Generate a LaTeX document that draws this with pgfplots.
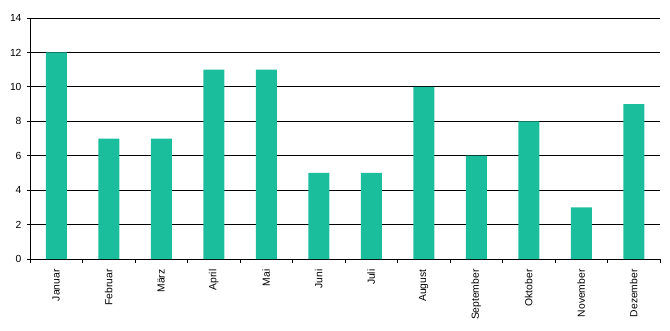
\documentclass[border=0pt]{standalone}
\usepackage{pgfplots}
\pgfplotsset{compat=1.18}
\usepackage{fontspec}
\setmainfont{Liberation Sans}
\definecolor{barc}{RGB}{27,190,156}
\begin{document}
\begin{tikzpicture}
\useasboundingbox (-30pt,-71pt) rectangle (640pt,259pt);
\begin{axis}[
  scale only axis,
  width=630pt, height=241pt,
  at={(0pt,0pt)}, anchor=south west,
  xmin=-0.5, xmax=11.5,
  ymin=0, ymax=14,
  axis x line*=bottom, axis y line*=left,
  axis line style={black, line width=0.8pt, -},
  ytick={0,2,...,14},
  ymajorgrids, grid style={black, line width=0.8pt},
  xtick={0,...,11},
  xticklabels={Januar,Februar,März,April,Mai,Juni,Juli,August,September,Oktober,November,Dezember},
  minor xtick={-0.5,0.5,...,11.5},
  major tick length=3pt,
  major x tick style={draw=none},
  minor x tick style={black, line width=0.8pt},
  minor tick length=4pt,
  tick align=outside,
  ytick style={black, line width=0.8pt},
  x tick label style={rotate=90, anchor=east, font=\fontsize{10.3}{12}\selectfont, xshift=-4pt},
  y tick label style={font=\fontsize{10.3}{12}\selectfont, xshift=-2pt},
  /pgf/number format/assume math mode=true,
  clip=false,
]
\addplot[ybar, bar width=21pt, fill=barc, draw=none] coordinates {
(0,12) (1,7) (2,7) (3,11) (4,11) (5,5) (6,5) (7,10) (8,6) (9,8) (10,3) (11,9)};
\end{axis}
\end{tikzpicture}
\end{document}
